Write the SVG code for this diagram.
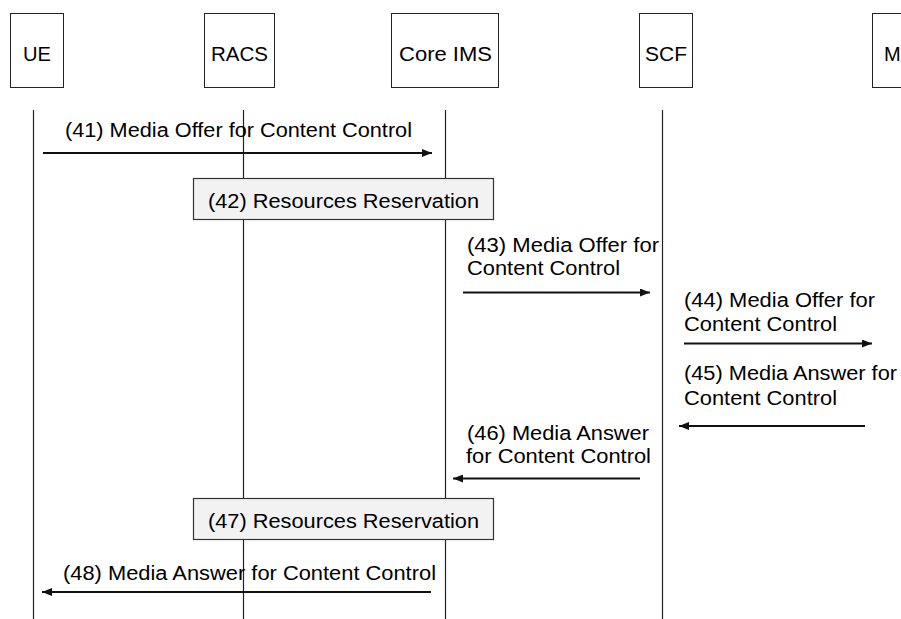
<svg xmlns="http://www.w3.org/2000/svg" width="901" height="619" viewBox="0 0 901 619">
<defs>
<style>
text{font-family:"Liberation Sans",Arial,sans-serif;font-size:20px;fill:#000}
.hdr{fill:#fff;stroke:#222;stroke-width:1}
.life{stroke:#222;stroke-width:1.2;fill:none}
.msg{stroke:#111;stroke-width:1.8;fill:none;marker-end:url(#ah)}
.act{fill:#f2f2f2;stroke:#333;stroke-width:1.2}
</style>
<marker id="ah" markerUnits="userSpaceOnUse" markerWidth="10" markerHeight="8" refX="10" refY="4" orient="auto">
<path d="M0,0 L10,4 L0,8 z" fill="#111"/>
</marker>
</defs>
<rect width="901" height="619" fill="#fff"/>
<g id="lifelines">
<line class="life" x1="33.5" y1="110" x2="33.5" y2="619"/>
<line class="life" x1="243.5" y1="110" x2="243.5" y2="619"/>
<line class="life" x1="445.5" y1="110" x2="445.5" y2="619"/>
<line class="life" x1="662.5" y1="110" x2="662.5" y2="619"/>
</g>
<g id="node-ue"><rect class="hdr" x="10.5" y="13.5" width="53" height="74"/><text x="23" y="61" textLength="28" lengthAdjust="spacingAndGlyphs">UE</text></g>
<g id="node-racs"><rect class="hdr" x="204.5" y="13.5" width="70" height="74"/><text x="211" y="61" textLength="57" lengthAdjust="spacingAndGlyphs">RACS</text></g>
<g id="node-coreims"><rect class="hdr" x="391.5" y="13.5" width="107" height="74"/><text x="399" y="61" textLength="93" lengthAdjust="spacingAndGlyphs">Core IMS</text></g>
<g id="node-scf"><rect class="hdr" x="639.5" y="13.5" width="53" height="74"/><text x="645" y="61" textLength="42" lengthAdjust="spacingAndGlyphs">SCF</text></g>
<g id="node-m"><rect class="hdr" x="872.5" y="13.5" width="80" height="74"/><text x="884" y="61">M</text></g>
<g id="act-42"><rect class="act" x="193.5" y="178.5" width="300" height="41"/><text x="208" y="208" textLength="271" lengthAdjust="spacingAndGlyphs">(42) Resources Reservation</text></g>
<g id="act-47"><rect class="act" x="193.5" y="498.5" width="300" height="41"/><text x="208" y="528" textLength="271" lengthAdjust="spacingAndGlyphs">(47) Resources Reservation</text></g>
<g id="connectors">
<line class="msg" x1="43" y1="153" x2="432" y2="153"/>
<line class="msg" x1="463" y1="292.5" x2="650" y2="292.5"/>
<line class="msg" x1="684" y1="343.5" x2="872" y2="343.5"/>
<line class="msg" x1="865" y1="426" x2="679" y2="426"/>
<line class="msg" x1="640" y1="478.5" x2="453" y2="478.5"/>
<line class="msg" x1="431" y1="592" x2="42" y2="592"/>
</g>
<g id="labels">
<text x="65" y="137" textLength="347" lengthAdjust="spacingAndGlyphs">(41) Media Offer for Content Control</text>
<text x="467" y="252" textLength="192" lengthAdjust="spacingAndGlyphs">(43) Media Offer for</text>
<text x="467" y="275" textLength="153" lengthAdjust="spacingAndGlyphs">Content Control</text>
<text x="684" y="307" textLength="191" lengthAdjust="spacingAndGlyphs">(44) Media Offer for</text>
<text x="684" y="331" textLength="153" lengthAdjust="spacingAndGlyphs">Content Control</text>
<text x="684" y="380" textLength="213" lengthAdjust="spacingAndGlyphs">(45) Media Answer for</text>
<text x="684" y="405" textLength="153" lengthAdjust="spacingAndGlyphs">Content Control</text>
<text x="467" y="440" textLength="182" lengthAdjust="spacingAndGlyphs">(46) Media Answer</text>
<text x="466" y="463" textLength="185" lengthAdjust="spacingAndGlyphs">for Content Control</text>
<text x="63" y="580" textLength="373" lengthAdjust="spacingAndGlyphs">(48) Media Answer for Content Control</text>
</g>
</svg>
